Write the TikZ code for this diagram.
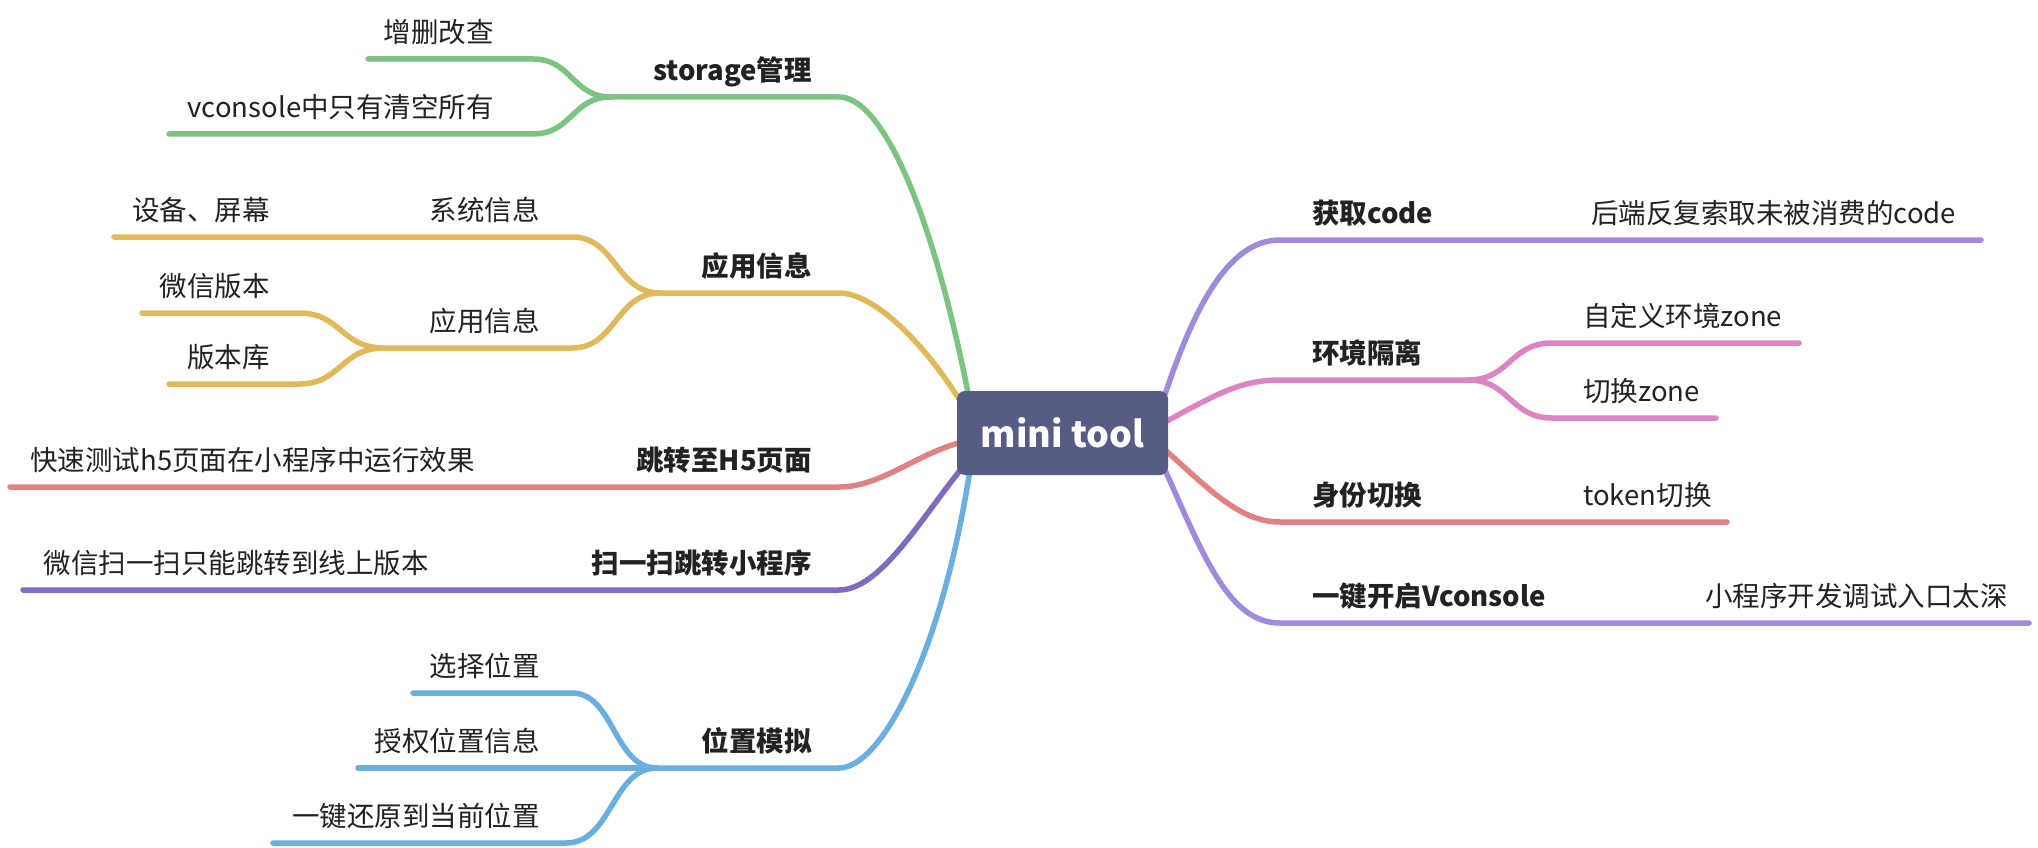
\documentclass[tikz,border=0pt]{standalone}
\usepackage{fontspec}
\setmainfont{Noto Sans CJK SC}
\usetikzlibrary{backgrounds}
\definecolor{cgreen}{RGB}{125,196,131}
\definecolor{cyellow}{RGB}{224,185,90}
\definecolor{cred}{RGB}{224,130,130}
\definecolor{cpurple}{RGB}{128,107,190}
\definecolor{cblue}{RGB}{106,175,224}
\definecolor{clav}{RGB}{160,138,220}
\definecolor{cpink}{RGB}{220,133,196}
\definecolor{cbox}{RGB}{86,92,131}
\definecolor{ctext}{RGB}{34,34,34}
\begin{document}
\begin{tikzpicture}[x=1pt,y=-1pt,
  conn/.style={line width=5.5pt, line cap=round, line join=round},
  lbl/.style={inner sep=0pt, text=ctext, font=\fontsize{27.5}{30}\selectfont},
  lbold/.style={inner sep=0pt, text=ctext, font=\fontsize{27.5}{30}\selectfont\bfseries},
  rootbox/.style={fill=cbox, rounded corners=8pt, minimum width=211pt, minimum height=84pt,
     text=white, inner sep=0pt, font=\fontsize{36}{40}\selectfont\bfseries}]
\useasboundingbox (0,0) rectangle (2038,848);
\node[rootbox] (root) at (1062.5,433) {mini tool};

% ---------- text nodes, left side ----------
\node[lbold, anchor=base east] (storage) at (812,80.5) {storage管理};
\node[lbl, anchor=base east] (zsgc) at (494,42.5) {增删改查};
\node[lbl, anchor=base east] (vcon) at (494,117.5) {vconsole中只有清空所有};
\node[lbold, anchor=base east] (appinfo) at (812,276.5) {应用信息};
\node[lbl, anchor=base east] (sysinfo) at (540,220.5) {系统信息};
\node[lbl, anchor=base east] (device) at (270,220.5) {设备、屏幕};
\node[lbl, anchor=base east] (appinfo2) at (540,331.5) {应用信息};
\node[lbl, anchor=base east] (wxver) at (270,296.5) {微信版本};
\node[lbl, anchor=base east] (verlib) at (270,367.5) {版本库};
\node[lbold, anchor=base east] (h5) at (812,470.5) {跳转至H5页面};
\node[lbl, anchor=base east] (h5d) at (475,470.5) {快速测试h5页面在小程序中运行效果};
\node[lbold, anchor=base east] (scan) at (812,573.5) {扫一扫跳转小程序};
\node[lbl, anchor=base east] (scand) at (429,573.5) {微信扫一扫只能跳转到线上版本};
\node[lbold, anchor=base east] (loc) at (812,751.5) {位置模拟};
\node[lbl, anchor=base east] (loc1) at (540,676.5) {选择位置};
\node[lbl, anchor=base east] (loc2) at (540,751.5) {授权位置信息};
\node[lbl, anchor=base east] (loc3) at (540,826.5) {一键还原到当前位置};

% ---------- text nodes, right side ----------
\node[lbold, anchor=base west] (code) at (1312,223.5) {获取code};
\node[lbl, anchor=base west] (coded) at (1591,223.5) {后端反复索取未被消费的code};
\node[lbold, anchor=base west] (env) at (1312,363.5) {环境隔离};
\node[lbl, anchor=base west] (env1) at (1583,326.5) {自定义环境zone};
\node[lbl, anchor=base west] (env2) at (1583,401.5) {切换zone};
\node[lbold, anchor=base west] (id) at (1312,505.5) {身份切换};
\node[lbl, anchor=base west] (idd) at (1583,505.5) {token切换};
\node[lbold, anchor=base west] (vc) at (1312,606.5) {一键开启Vconsole};
\node[lbl, anchor=base west] (vcd) at (1705,606.5) {小程序开发调试入口太深};

% ---------- named points ----------
\coordinate (gS) at ([xshift=12pt,yshift=-6pt]root.north west);
\coordinate (gA) at (839,97);   \coordinate (gF) at (611,97);
\coordinate (g1) at (533,59);   \coordinate (g1e) at (368,59);
\coordinate (g2) at (533,134);  \coordinate (g2e) at (169,134);

\coordinate (yS) at ([xshift=2pt,yshift=-8pt]root.north west);
\coordinate (yA) at (839,293);  \coordinate (yF) at (660,293);
\coordinate (y1) at (572,237);  \coordinate (y1e) at (114,237);
\coordinate (y2) at (572,348);  \coordinate (yF2) at (384,348);
\coordinate (y3) at (299,313);  \coordinate (y3e) at (142,313);
\coordinate (y4) at (299,384);  \coordinate (y4e) at (169,384);

\coordinate (rS) at ([xshift=2pt,yshift=-10pt]root.west);
\coordinate (rA) at (839,487);  \coordinate (rE) at (10,487);

\coordinate (pS) at ([xshift=5pt,yshift=7pt]root.south west);
\coordinate (pA) at (839,590);  \coordinate (pE) at (23,590);

\coordinate (bS) at ([xshift=13pt,yshift=4pt]root.south west);
\coordinate (bA) at (839,768);  \coordinate (bF) at (657,768);
\coordinate (b1) at (572,693);  \coordinate (b1e) at (413,693);
\coordinate (b2e) at (358,768);
\coordinate (b3) at (566,843);  \coordinate (b3e) at (273,843);

\coordinate (lS) at ([xshift=-3pt,yshift=-3pt]root.north east);
\coordinate (lA) at (1280,240); \coordinate (lE) at (1981,240);

\coordinate (kS) at ([xshift=-3pt,yshift=11pt]root.east);
\coordinate (kA) at (1280,380); \coordinate (kF) at (1468,380);
\coordinate (k1) at (1552,343); \coordinate (k1e) at (1799,343);
\coordinate (k2) at (1552,418); \coordinate (k2e) at (1716,418);

\coordinate (qS) at ([xshift=-3pt,yshift=-17pt]root.east);
\coordinate (qA) at (1280,522); \coordinate (qE) at (1727,522);

\coordinate (vS) at ([xshift=-3pt,yshift=5pt]root.south east);
\coordinate (vA) at (1280,623); \coordinate (vE) at (2029,623);

\begin{scope}[on background layer]
\fill[white] (0,0) rectangle (2038,848);
% green
\draw[conn, cgreen] (gS) .. controls (930,200) and (880,97) .. (gA) -- (gF);
\draw[conn, cgreen] (gF) .. controls (572,97) and (572,59) .. (g1) -- (g1e);
\draw[conn, cgreen] (gF) .. controls (572,97) and (572,134) .. (g2) -- (g2e);
% yellow
\draw[conn, cyellow] (yS) .. controls (925,345) and (875,293) .. (yA) -- (yF);
\draw[conn, cyellow] (yF) .. controls (616,293) and (616,237) .. (y1) -- (y1e);
\draw[conn, cyellow] (yF) .. controls (616,293) and (616,348) .. (y2) -- (yF2);
\draw[conn, cyellow] (yF2) .. controls (341,348) and (341,313) .. (y3) -- (y3e);
\draw[conn, cyellow] (yF2) .. controls (341,348) and (341,384) .. (y4) -- (y4e);
% red left
\draw[conn, cred] (rS) .. controls (915,455) and (880,487) .. (rA) -- (rE);
% purple left
\draw[conn, cpurple] (pS) .. controls (920,520) and (880,590) .. (pA) -- (pE);
% blue
\draw[conn, cblue] (bS) .. controls (940,660) and (880,768) .. (bA) -- (bF);
\draw[conn, cblue] (bF) .. controls (614,768) and (614,693) .. (b1) -- (b1e);
\draw[conn, cblue] (bF) -- (b2e);
\draw[conn, cblue] (bF) .. controls (612,768) and (612,843) .. (b3) -- (b3e);
% right lavender top
\draw[conn, clav] (lS) .. controls (1200,290) and (1235,240) .. (lA) -- (lE);
% pink
\draw[conn, cpink] (kS) .. controls (1215,395) and (1240,380) .. (kA) -- (kF);
\draw[conn, cpink] (kF) .. controls (1510,380) and (1510,343) .. (k1) -- (k1e);
\draw[conn, cpink] (kF) .. controls (1510,380) and (1510,418) .. (k2) -- (k2e);
% red right
\draw[conn, cred] (qS) .. controls (1210,490) and (1240,522) .. (qA) -- (qE);
% lavender bottom
\draw[conn, clav] (vS) .. controls (1205,560) and (1230,623) .. (vA) -- (vE);
\end{scope}
\end{tikzpicture}
\end{document}
